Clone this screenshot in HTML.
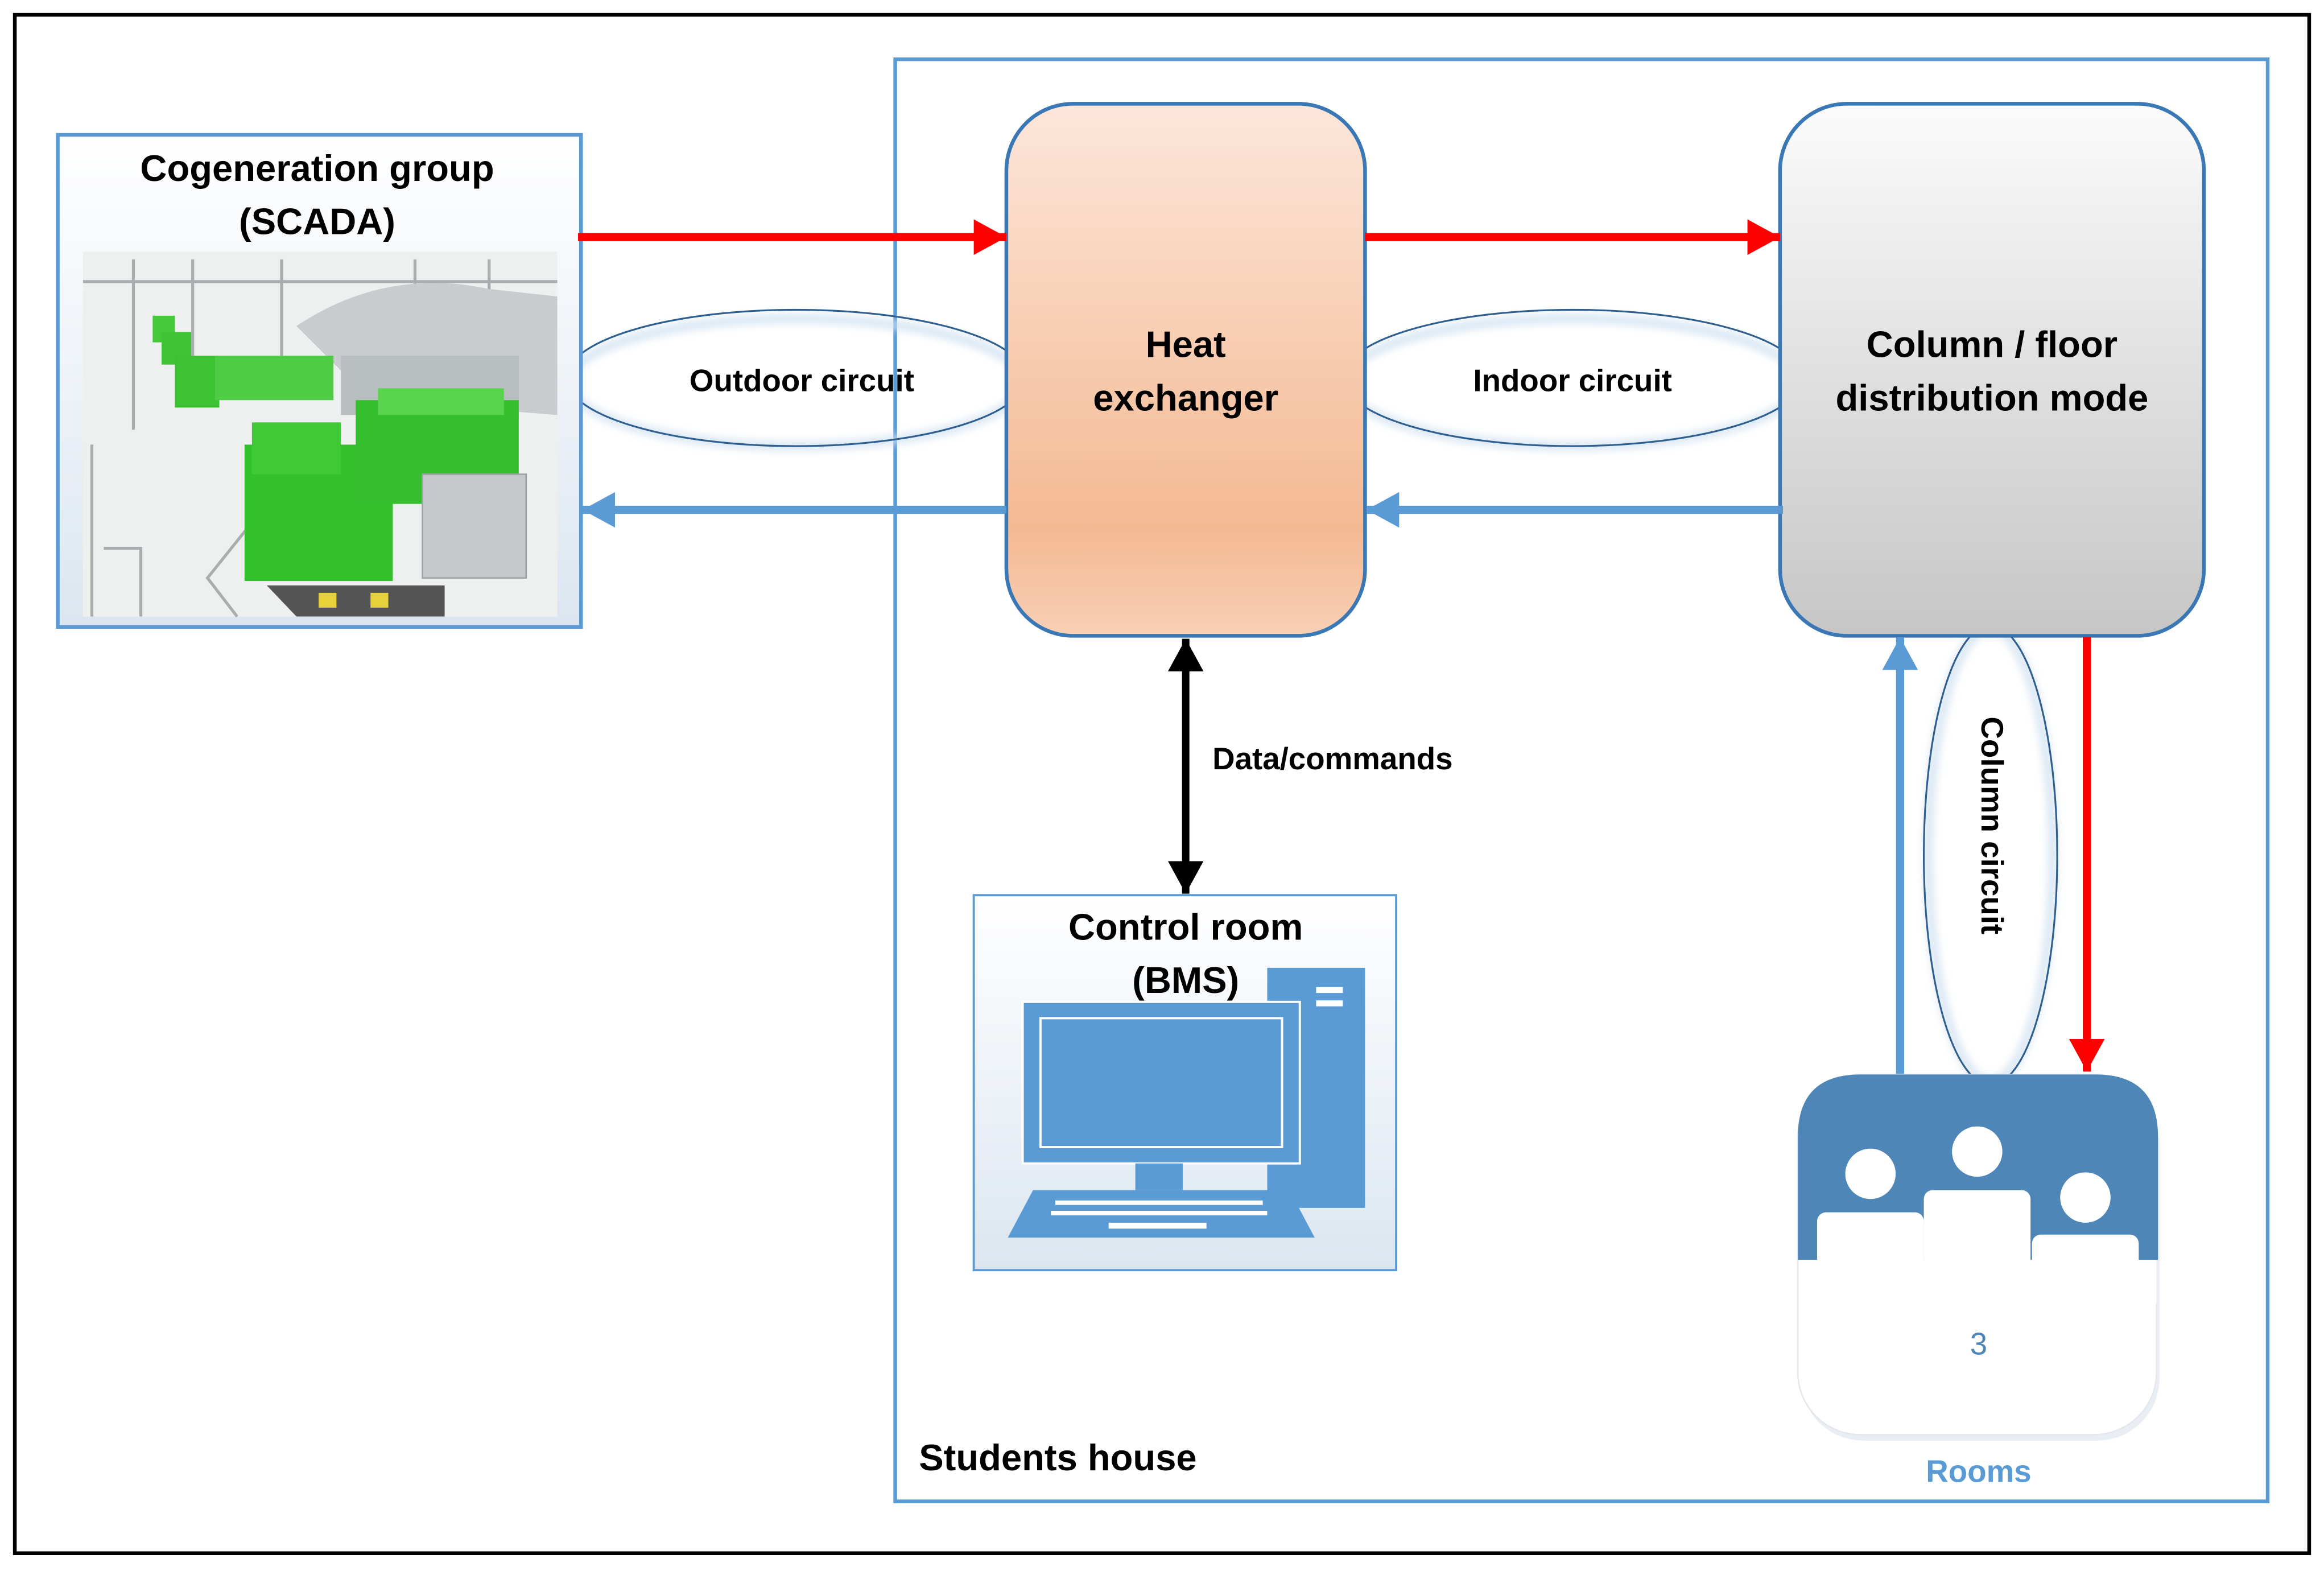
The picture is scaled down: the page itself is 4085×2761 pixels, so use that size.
<!DOCTYPE html>
<html><head><meta charset="utf-8"><style>
html,body{margin:0;padding:0;background:#fff;}
svg{display:block;}
text{font-family:"Liberation Sans",sans-serif;}
</style></head><body>
<svg width="4085" height="2761" viewBox="0 0 1568 1060" preserveAspectRatio="none" xmlns="http://www.w3.org/2000/svg">
<defs>
<linearGradient id="gHeat" x1="0" y1="0" x2="0" y2="1"><stop offset="0" stop-color="#fce6da"/><stop offset="0.8" stop-color="#f4b992"/><stop offset="1" stop-color="#f8cfb5"/></linearGradient>
<linearGradient id="gCol" x1="0" y1="0" x2="0" y2="1"><stop offset="0" stop-color="#fbfbfb"/><stop offset="1" stop-color="#c6c6c6"/></linearGradient>
<linearGradient id="gBox" x1="0" y1="0" x2="0" y2="1"><stop offset="0" stop-color="#ffffff"/><stop offset="1" stop-color="#dce6f0"/></linearGradient>
<marker id="ar" markerWidth="22" markerHeight="24" refX="22" refY="12" orient="auto" markerUnits="userSpaceOnUse"><path d="M0,0 L22,12 L0,24 z" fill="#ff0000"/></marker>
<marker id="ab" markerWidth="22" markerHeight="24" refX="22" refY="12" orient="auto" markerUnits="userSpaceOnUse"><path d="M0,0 L22,12 L0,24 z" fill="#5b9bd5"/></marker>
<marker id="ak" markerWidth="22" markerHeight="24" refX="22" refY="12" orient="auto" markerUnits="userSpaceOnUse"><path d="M0,0 L22,12 L0,24 z" fill="#000"/></marker>
<marker id="aks" markerWidth="22" markerHeight="24" refX="0" refY="12" orient="auto" markerUnits="userSpaceOnUse"><path d="M22,0 L0,12 L22,24 z" fill="#000"/></marker>
<filter id="glow" x="-10%" y="-30%" width="120%" height="160%"><feGaussianBlur stdDeviation="3"/></filter>
</defs>
<rect x="0" y="0" width="1568" height="1060" fill="#fff"/>
<rect x="10" y="10" width="1548" height="1038" fill="none" stroke="#000" stroke-width="2.5"/>
<rect x="604" y="40" width="926" height="973" fill="none" stroke="#5b9bd5" stroke-width="2.5"/>

<!-- ellipses -->
<g fill="none" stroke="#cfe0f0" stroke-width="5" filter="url(#glow)">
<ellipse cx="537" cy="258" rx="153" ry="43"/>
<ellipse cx="1061" cy="258" rx="153" ry="43"/>
<ellipse cx="1343" cy="577" rx="42" ry="153"/>
</g>
<ellipse cx="537" cy="255" rx="155" ry="46" fill="none" stroke="#2e5e8e" stroke-width="1.2"/>
<ellipse cx="1061" cy="255" rx="155" ry="46" fill="none" stroke="#2e5e8e" stroke-width="1.2"/>
<ellipse cx="1343" cy="577" rx="45" ry="155" fill="none" stroke="#2e5e8e" stroke-width="1.2"/>

<!-- Cogeneration -->
<rect x="39" y="91" width="353" height="332" fill="url(#gBox)" stroke="#5b9bd5" stroke-width="2.5"/>
<text x="214" y="122" font-size="25" font-weight="bold" text-anchor="middle">Cogeneration group</text>
<text x="214" y="158" font-size="25" font-weight="bold" text-anchor="middle">(SCADA)</text>
<rect x="56" y="170" width="320" height="246" fill="#eef0f0"/>
<g stroke="#a8adb0" stroke-width="2" fill="none">
<line x1="90" y1="175" x2="90" y2="290"/><line x1="130" y1="175" x2="130" y2="240"/><line x1="190" y1="175" x2="190" y2="260"/>
<line x1="280" y1="175" x2="280" y2="250"/><line x1="330" y1="175" x2="330" y2="270"/><line x1="56" y1="190" x2="376" y2="190"/>
<path d="M62,300 L62,416 M70,370 L95,370 L95,416 M180,340 L140,390 L160,416"/>
</g>
<path d="M200,220 Q260,180 330,195 L376,200 L376,280 L250,270 z" fill="#c8ccce"/>
<rect x="230" y="240" width="120" height="40" fill="#b9bec1"/>
<rect x="103" y="213" width="15" height="18" fill="#45c83c"/>
<rect x="109" y="224" width="20" height="22" fill="#40c437"/>
<rect x="118" y="240" width="30" height="35" fill="#3cc233"/>
<rect x="145" y="240" width="80" height="30" fill="#4fcc45"/>
<rect x="165" y="300" width="100" height="92" fill="#33c02c"/>
<rect x="170" y="285" width="60" height="35" fill="#3fc936"/>
<rect x="240" y="270" width="110" height="70" fill="#35bf2e"/>
<rect x="255" y="262" width="85" height="18" fill="#5ad44e"/>
<rect x="285" y="320" width="70" height="70" fill="#c4c8ca" stroke="#9ca2a5"/>
<path d="M180,395 L300,395 L300,416 L200,416 z" fill="#555"/>
<rect x="215" y="400" width="12" height="10" fill="#e6d23a"/><rect x="250" y="400" width="12" height="10" fill="#e6d23a"/>

<!-- Heat exchanger -->
<rect x="679" y="70" width="242" height="359" rx="45" fill="url(#gHeat)" stroke="#3a78b5" stroke-width="2.5"/>
<text x="800" y="241" font-size="25" font-weight="bold" text-anchor="middle">Heat</text>
<text x="800" y="277" font-size="25" font-weight="bold" text-anchor="middle">exchanger</text>

<!-- Column/floor -->
<rect x="1201" y="70" width="286" height="359" rx="45" fill="url(#gCol)" stroke="#3a78b5" stroke-width="2.5"/>
<text x="1344" y="241" font-size="25" font-weight="bold" text-anchor="middle">Column / floor</text>
<text x="1344" y="277" font-size="25" font-weight="bold" text-anchor="middle">distribution mode</text>

<!-- labels -->
<text x="541" y="264" font-size="21" font-weight="bold" text-anchor="middle">Outdoor circuit</text>
<text x="1061" y="264" font-size="21" font-weight="bold" text-anchor="middle">Indoor circuit</text>
<text transform="translate(1337,557) rotate(90)" font-size="21" font-weight="bold" text-anchor="middle">Column circuit</text>

<!-- arrows -->
<line x1="390" y1="160" x2="679" y2="160" stroke="#ff0000" stroke-width="5.5" marker-end="url(#ar)"/>
<line x1="921" y1="160" x2="1201" y2="160" stroke="#ff0000" stroke-width="5.5" marker-end="url(#ar)"/>
<line x1="679" y1="344" x2="393" y2="344" stroke="#5b9bd5" stroke-width="5.5" marker-end="url(#ab)"/>
<line x1="1203" y1="344" x2="922" y2="344" stroke="#5b9bd5" stroke-width="5.5" marker-end="url(#ab)"/>
<line x1="1282" y1="725" x2="1282" y2="430" stroke="#5b9bd5" stroke-width="5.5" marker-end="url(#ab)"/>
<line x1="1408" y1="430" x2="1408" y2="723" stroke="#ff0000" stroke-width="5.5" marker-end="url(#ar)"/>
<line x1="800" y1="431" x2="800" y2="603" stroke="#000" stroke-width="5" marker-start="url(#aks)" marker-end="url(#ak)"/>
<text x="818" y="519" font-size="21" font-weight="bold">Data/commands</text>

<!-- Control room -->
<rect x="657" y="604" width="285" height="253" fill="url(#gBox)" stroke="#5b9bd5" stroke-width="1.5"/>
<rect x="855" y="653" width="66" height="162" fill="#5b9bd5"/>
<rect x="888" y="666" width="18" height="4" fill="#fff"/>
<rect x="888" y="675" width="18" height="4" fill="#fff"/>
<rect x="690" y="676" width="187" height="109" fill="#5b9bd5" stroke="#fff" stroke-width="1.5"/>
<rect x="702" y="687" width="163" height="87" fill="#5b9bd5" stroke="#fff" stroke-width="1.5"/>
<rect x="766" y="785" width="32" height="18" fill="#5b9bd5"/>
<path d="M697,803 L870,803 L887,835 L680,835 z" fill="#5b9bd5"/>
<g fill="#fff">
<rect x="712" y="810" width="140" height="3"/><rect x="709" y="817" width="146" height="3"/><rect x="748" y="825" width="66" height="4"/>
</g>
<text x="800" y="634" font-size="25" font-weight="bold" text-anchor="middle">Control room</text>
<text x="800" y="670" font-size="25" font-weight="bold" text-anchor="middle">(BMS)</text>

<!-- Rooms -->
<rect x="1215" y="732" width="242" height="240" rx="42" fill="#e8eef4"/>
<rect x="1213" y="725" width="242" height="243" rx="42" fill="#fff" stroke="#e4e8ec" stroke-width="1"/>
<path d="M1255,725 L1414,725 Q1456,725 1456,767 L1456,850 L1213,850 L1213,767 Q1213,725 1255,725 z" fill="#4f86b8"/>
<circle cx="1262" cy="792" r="17" fill="#fff"/>
<circle cx="1334" cy="777" r="17" fill="#fff"/>
<circle cx="1407" cy="808" r="17" fill="#fff"/>
<rect x="1226" y="818" width="72" height="40" rx="6" fill="#fff"/>
<rect x="1298" y="803" width="72" height="55" rx="6" fill="#fff"/>
<rect x="1371" y="833" width="72" height="25" rx="6" fill="#fff"/>
<rect x="1214" y="850" width="241" height="30" fill="#fff"/>
<text x="1335" y="914" font-size="21" fill="#4f86b8" text-anchor="middle">3</text>
<text x="1335" y="1000" font-size="21" font-weight="bold" fill="#5b9bd5" text-anchor="middle">Rooms</text>

<text x="620" y="992" font-size="25" font-weight="bold">Students house</text>
</svg>
</body></html>
